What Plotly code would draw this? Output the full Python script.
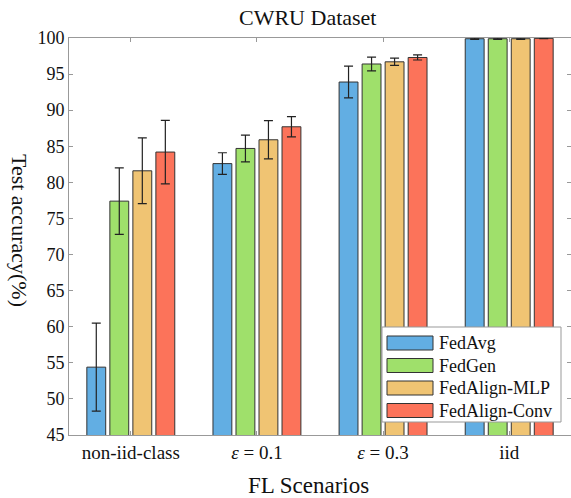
import plotly.graph_objects as go

categories = ["non-iid-class", "<i>ε</i> = 0.1", "<i>ε</i> = 0.3", "iid"]
series_names = ["FedAvg", "FedGen", "FedAlign-MLP", "FedAlign-Conv"]
fedavg = [54.4, 82.6, 93.9, 99.9]
fedavg_err = [6.1, 1.5, 2.2, 0.1]
fedgen = [77.4, 84.7, 96.4, 99.9]
fedgen_err = [4.6, 1.85, 0.95, 0.1]
mlp = [81.6, 85.9, 96.7, 99.9]
mlp_err = [4.55, 2.65, 0.5, 0.1]
conv = [84.2, 87.7, 97.3, 99.95]
conv_err = [4.4, 1.4, 0.35, 0.05]
colors = ["#62AEE3", "#9FE06B", "#F0C473", "#FC735A"]

values = [fedavg, fedgen, mlp, conv]
errors = [fedavg_err, fedgen_err, mlp_err, conv_err]

FONT = "Liberation Serif"
fig = go.Figure()
x_idx = list(range(len(categories)))
for name, v, e, c in zip(series_names, values, errors, colors):
    fig.add_trace(go.Bar(
        x=x_idx, y=v, name=name, marker_color=c,
        marker_line=dict(color="#333333", width=1),
        error_y=dict(type="data", array=e, color="#222222", thickness=1.2, width=4.5),
        showlegend=False,
    ))

L, R, T, B = 69, 0, 38, 63
W, H = 571, 498
pw, ph = W - L - R, H - T - B

fig.update_layout(
    width=W, height=H,
    margin=dict(l=L, r=R, t=T, b=B),
    paper_bgcolor="white", plot_bgcolor="white",
    barmode="group", bargap=0.27, bargroupgap=0.18,
    font=dict(family=FONT, size=18, color="#111111"),
    xaxis=dict(
        range=[-0.49, 3.49], tickmode="array", tickvals=x_idx, ticktext=categories,
        showline=True, linecolor="#999999", linewidth=1, mirror="ticks",
        ticks="inside", ticklen=4, tickcolor="#999999",
        showgrid=False, zeroline=False, tickfont=dict(size=19, family=FONT, color="#111111"),
    ),
    yaxis=dict(
        range=[45, 100], tickmode="array", tickvals=list(range(45, 101, 5)),
        showline=True, linecolor="#999999", linewidth=1, mirror="ticks",
        ticks="inside", ticklen=4, tickcolor="#999999",
        showgrid=False, zeroline=False, tickfont=dict(size=18, family=FONT, color="#111111"),
    ),
)

annotations = [
    dict(text="CWRU Dataset", x=(307 - L) / pw, y=(H - B - 18) / ph, xref="paper", yref="paper",
         xanchor="center", yanchor="middle", showarrow=False,
         font=dict(family=FONT, size=22, color="#111111")),
    dict(text="FL Scenarios", x=(308 - L) / pw, y=(H - B - 485) / ph, xref="paper", yref="paper",
         xanchor="center", yanchor="middle", showarrow=False,
         font=dict(family=FONT, size=23, color="#111111")),
    dict(text="Test accuracy(%)", x=(20 - L) / pw, y=(H - B - 230) / ph, xref="paper", yref="paper",
         xanchor="center", yanchor="middle", textangle=90, showarrow=False,
         font=dict(family=FONT, size=22, color="#111111")),
]

# custom legend
lx0, lx1, ly0, ly1 = 382, 561, 327, 422
shapes = [dict(type="rect", xref="paper", yref="paper",
               x0=(lx0 - L) / pw, x1=(lx1 - L) / pw,
               y0=(H - B - ly1) / ph, y1=(H - B - ly0) / ph,
               fillcolor="white", line=dict(color="#999999", width=1), layer="above")]
for i, (name, c) in enumerate(zip(series_names, colors)):
    cy = 343 + i * 22.5
    shapes.append(dict(type="rect", xref="paper", yref="paper",
                       x0=(387 - L) / pw, x1=(433 - L) / pw,
                       y0=(H - B - (cy + 7)) / ph, y1=(H - B - (cy - 7)) / ph,
                       fillcolor=c, line=dict(color="#333333", width=1), layer="above"))
    annotations.append(dict(text=name, x=(437 - L) / pw, y=(H - B - cy) / ph,
                            xref="paper", yref="paper", xanchor="left", yanchor="middle",
                            showarrow=False, font=dict(family=FONT, size=18, color="#111111")))

fig.update_layout(annotations=annotations, shapes=shapes)
fig.write_html("out.html")
